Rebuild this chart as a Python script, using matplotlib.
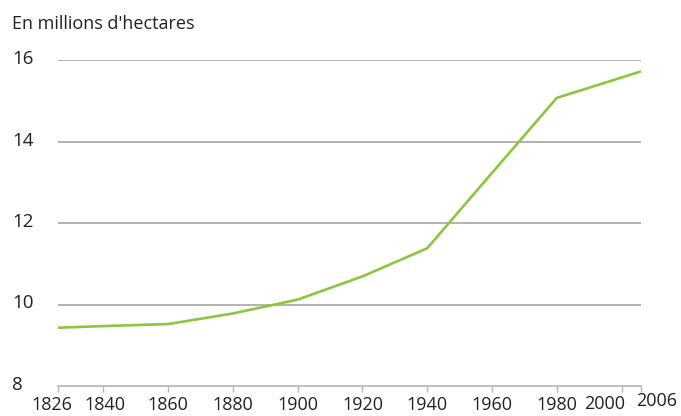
import matplotlib.pyplot as plt
import matplotlib.transforms as mtransforms

years = [1826, 1840, 1860, 1880, 1900, 1920, 1940, 1960, 1980, 2006]
hectares = [9.43, 9.47, 9.52, 9.78, 10.12, 10.69, 11.38, 13.23, 15.07, 15.72]
xticks = [1826, 1840, 1860, 1880, 1900, 1920, 1940, 1960, 1980, 2000, 2006]
yticks = [8, 10, 12, 14, 16]

plt.rcParams['font.family'] = ['Open Sans', 'DejaVu Sans']

fig = plt.figure(figsize=(6.81, 4.16), dpi=100)
ax = fig.add_axes([58 / 681, 1 - 386 / 416, (641 - 58) / 681, (386 - 60) / 416])

for y in yticks[1:]:
    ax.axhline(y, color='#a6a6a6', lw=1.2, zorder=1)

ax.plot(years, hectares, color='#8cc63f', lw=1.9, zorder=3, solid_capstyle='butt')

ax.set_xlim(1826, 2006)
ax.set_ylim(8, 16)
ax.set_xticks(xticks)
ax.set_yticks(yticks)
ax.set_yticklabels([str(v) for v in yticks])

for s in ['top', 'right', 'left']:
    ax.spines[s].set_visible(False)
ax.spines['bottom'].set_color('#b5b5b5')
ax.spines['bottom'].set_linewidth(1.2)

ax.tick_params(axis='x', colors='#b5b5b5', length=4, width=1, labelcolor='#222222',
               labelsize=13, pad=3)
ax.tick_params(axis='y', length=0, labelcolor='#222222', labelsize=13.5, pad=26)
for lab in ax.get_yticklabels():
    lab.set_horizontalalignment('left')
    lab.set_x(-46 / 583)
    off = mtransforms.ScaledTranslation(0, 3 / 100, fig.dpi_scale_trans)
    lab.set_transform(ax.get_yaxis_transform() + off)

# the last two labels sit apart and a bit higher, as in the source
xlabs = ax.get_xticklabels()
shifts = {0: (-6, 0), 1: (2, 0), 9: (-17, 1), 10: (16, 4)}
for i, (dx, dy) in shifts.items():
    off = mtransforms.ScaledTranslation(dx / 100, dy / 100, fig.dpi_scale_trans)
    xlabs[i].set_transform(xlabs[i].get_transform() + off)

fig.text(12 / 681, 1 - 24 / 416, "En millions d'hectares", fontsize=13,
         color='#222222', ha='left', va='center')

fig.savefig('out.png', dpi=100)
